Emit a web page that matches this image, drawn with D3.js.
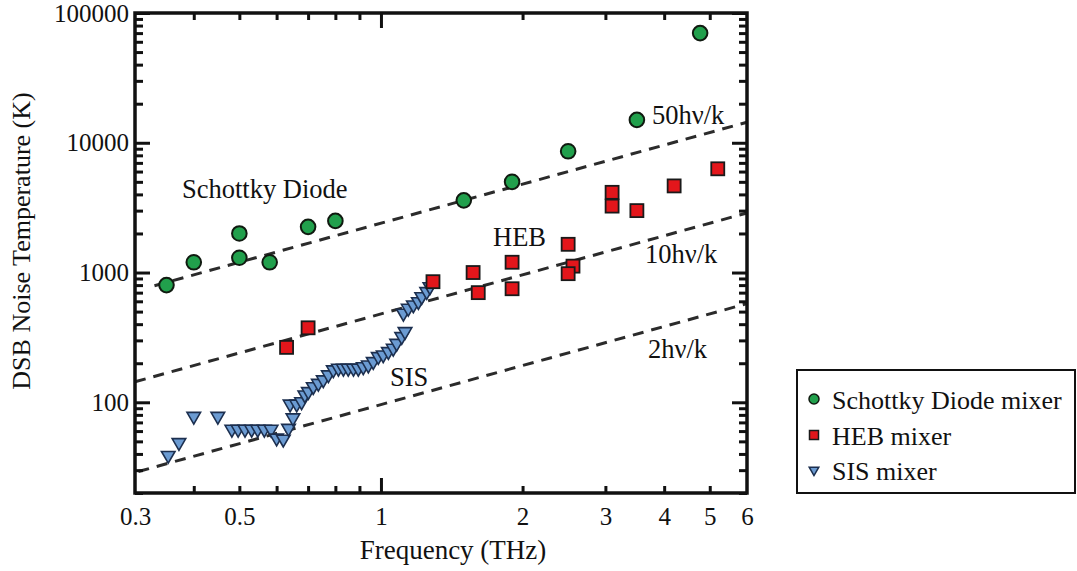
<!DOCTYPE html>
<html>
<head>
<meta charset="utf-8">
<script src="https://cdn.jsdelivr.net/npm/d3@7"></script>
<style>
  body { margin: 0; background: #fff; }
  svg { display: block; }
  text { font-family: "Liberation Serif", "Times New Roman", serif; fill: #111; }
</style>
</head>
<body>
<svg id="chart" width="1077" height="571"></svg>
<script>
// Receiver noise temperature (DSB) vs. frequency for three mixer technologies
const schottkyFreq = [0.35, 0.40, 0.50, 0.50, 0.58, 0.70, 0.80, 1.50, 1.90, 2.50, 3.50, 4.77];
const schottkyTemp = [800, 1200, 2000, 1300, 1200, 2250, 2500, 3600, 5000, 8600, 15000, 70000];

const hebFreq = [0.63, 0.70, 1.29, 1.57, 1.61, 1.90, 1.90, 2.50, 2.56, 2.50, 3.10, 3.10, 3.50, 4.20, 5.20];
const hebTemp = [265, 375, 850, 1000, 700, 1200, 750, 1650, 1120, 980, 4150, 3250, 3000, 4650, 6300];

const sisFreq = [0.353, 0.372, 0.40, 0.45,
  0.482, 0.497, 0.514, 0.531, 0.547, 0.565, 0.584,
  0.600, 0.620, 0.636, 0.650,
  0.641, 0.662, 0.678, 0.689, 0.701, 0.718, 0.736, 0.754, 0.773, 0.792,
  0.812, 0.832, 0.852, 0.874, 0.895, 0.917, 0.940, 0.963, 0.987, 1.011,
  1.037, 1.062, 1.080, 1.107, 1.125,
  1.116, 1.143, 1.172, 1.201, 1.221, 1.251, 1.271];
const sisTemp = [39, 49, 78, 78,
  62, 62, 62, 62, 62, 62, 62,
  53, 52, 63, 76,
  97, 97, 101, 114, 121, 132, 140, 149, 163, 178,
  183, 183, 183, 183, 183, 188, 194, 206, 225, 232,
  246, 261, 285, 321, 351,
  486, 531, 563, 597, 652, 713, 778];

// Quantum-limit reference lines T = N·hν/k (h/k ≈ 47.99 K per THz)
const hOverK = 47.99;
const refFactors = [50, 10, 2];
const refLabels = ["50hν/k", "10hν/k", "2hν/k"];
const refFreqStart = [0.33, 0.30, 0.305];
const refFreqEnd = [6, 6, 6];

const xTickValues = [0.3, 0.5, 1, 2, 3, 4, 5, 6];
const xMajorValues = [1];
const xMinorValues = [0.4, 0.5, 0.6, 0.7, 0.8, 0.9, 2, 3, 4, 5];
const yTickValues = [100, 1000, 10000, 100000];

const svg = d3.select("#chart");
const plotLeft = 135, plotRight = 747, plotTop = 13, plotBottom = 493;

const x = d3.scaleLog().domain([0.3, 6]).range([plotLeft, plotRight]);
const y = d3.scaleLog().domain([20, 100000]).range([plotBottom, plotTop]);

const yMinorValues = [];
[10, 100, 1000, 10000].forEach(d => {
  for (let k = 2; k <= 9; k++) {
    const v = d * k;
    if (v >= 20 && v < 100000) yMinorValues.push(v);
  }
});

const fontSize = 25;

// ---- reference lines ----
const refG = svg.append("g");
refFactors.forEach((n, i) => {
  const f0 = refFreqStart[i], f1 = refFreqEnd[i];
  refG.append("line")
    .attr("x1", x(f0)).attr("y1", y(n * hOverK * f0))
    .attr("x2", x(f1)).attr("y2", y(n * hOverK * f1))
    .attr("stroke", "#2b2b2b")
    .attr("stroke-width", 3)
    .attr("stroke-dasharray", "11,8");
});

// ---- data markers ----
const marks = svg.append("g");

marks.selectAll("path.sis")
  .data(sisFreq.map((f, i) => [f, sisTemp[i]]))
  .join("path")
  .attr("class", "sis")
  .attr("d", d3.symbol(d3.symbolTriangle, 80)())
  .attr("transform", d => `translate(${x(d[0])},${y(d[1])}) rotate(180)`)
  .attr("fill", "#6b9bd2")
  .attr("stroke", "#1c2f4f")
  .attr("stroke-width", 1.6);

marks.selectAll("rect.heb")
  .data(hebFreq.map((f, i) => [f, hebTemp[i]]))
  .join("rect")
  .attr("class", "heb")
  .attr("x", d => x(d[0]) - 6.5)
  .attr("y", d => y(d[1]) - 6.5)
  .attr("width", 13).attr("height", 13)
  .attr("fill", "#e3161b")
  .attr("stroke", "#1a1a1a")
  .attr("stroke-width", 1.8);

marks.selectAll("circle.sch")
  .data(schottkyFreq.map((f, i) => [f, schottkyTemp[i]]))
  .join("circle")
  .attr("class", "sch")
  .attr("cx", d => x(d[0]))
  .attr("cy", d => y(d[1]))
  .attr("r", 7.3)
  .attr("fill", "#21a04c")
  .attr("stroke", "#101a10")
  .attr("stroke-width", 2);

// ---- frame and ticks (all ticks point inward) ----
const axisStyle = g => {
  g.select(".domain").remove();
  g.selectAll(".tick line").attr("stroke", "#111").attr("stroke-width", 3);
};

svg.append("g").attr("transform", `translate(0,${plotBottom})`)
  .call(d3.axisBottom(x).tickValues(xMinorValues).tickSize(-7).tickFormat(""))
  .call(axisStyle);
svg.append("g").attr("transform", `translate(0,${plotBottom})`)
  .call(d3.axisBottom(x).tickValues(xMajorValues).tickSize(-15).tickFormat(""))
  .call(axisStyle);
svg.append("g").attr("transform", `translate(0,${plotTop})`)
  .call(d3.axisTop(x).tickValues(xMinorValues).tickSize(-7).tickFormat(""))
  .call(axisStyle);
svg.append("g").attr("transform", `translate(0,${plotTop})`)
  .call(d3.axisTop(x).tickValues(xMajorValues).tickSize(-15).tickFormat(""))
  .call(axisStyle);

svg.append("g").attr("transform", `translate(${plotLeft},0)`)
  .call(d3.axisLeft(y).tickValues(yMinorValues).tickSize(-8).tickFormat(""))
  .call(axisStyle);
svg.append("g").attr("transform", `translate(${plotLeft},0)`)
  .call(d3.axisLeft(y).tickValues(yTickValues).tickSize(-15).tickFormat(""))
  .call(axisStyle);
svg.append("g").attr("transform", `translate(${plotRight},0)`)
  .call(d3.axisRight(y).tickValues(yMinorValues).tickSize(-8).tickFormat(""))
  .call(axisStyle);
svg.append("g").attr("transform", `translate(${plotRight},0)`)
  .call(d3.axisRight(y).tickValues(yTickValues).tickSize(-15).tickFormat(""))
  .call(axisStyle);

svg.append("rect")
  .attr("x", plotLeft).attr("y", plotTop)
  .attr("width", plotRight - plotLeft).attr("height", plotBottom - plotTop)
  .attr("fill", "none").attr("stroke", "#111").attr("stroke-width", 3.5);

// ---- tick labels ----
svg.append("g").attr("transform", `translate(0,${plotBottom})`)
  .call(d3.axisBottom(x).tickValues(xTickValues).tickSize(0).tickPadding(14).tickFormat(d3.format("")))
  .call(g => g.select(".domain").remove())
  .call(g => g.selectAll("text")
    .attr("font-size", fontSize)
    .attr("font-family", "Liberation Serif, serif")
    .attr("fill", "#111"));

svg.append("g").attr("transform", `translate(${plotLeft},0)`)
  .call(d3.axisLeft(y).tickValues(yTickValues).tickSize(0).tickPadding(6).tickFormat(d3.format("d")))
  .call(g => g.select(".domain").remove())
  .call(g => g.selectAll("text")
    .attr("font-size", fontSize)
    .attr("font-family", "Liberation Serif, serif")
    .attr("fill", "#111"));

// ---- axis titles ----
svg.append("text")
  .attr("x", (plotLeft + plotRight) / 2 + 12).attr("y", 559)
  .attr("text-anchor", "middle")
  .attr("font-size", 27)
  .text("Frequency (THz)");

svg.append("text")
  .attr("transform", `translate(30,${(plotTop + plotBottom) / 2 - 12}) rotate(-90)`)
  .attr("text-anchor", "middle")
  .attr("font-size", 26)
  .text("DSB Noise Temperature (K)");

// ---- in-plot annotations ----
const annot = svg.append("g").attr("font-size", 26.5);
annot.append("text").attr("x", 182).attr("y", 198).text("Schottky Diode");
annot.append("text").attr("x", 493).attr("y", 246).text("HEB");
annot.append("text").attr("x", 390).attr("y", 386).text("SIS");
const refLabelX = [652, 645, 648];
const refLabelY = [124, 263, 358];
refLabels.forEach((t, i) => {
  annot.append("text").attr("x", refLabelX[i]).attr("y", refLabelY[i]).text(t);
});

// ---- legend ----
const legendNames = ["Schottky Diode mixer", "HEB mixer", "SIS mixer"];
const lg = svg.append("g");
lg.append("rect")
  .attr("x", 797).attr("y", 370).attr("width", 278).attr("height", 123)
  .attr("fill", "#fff").attr("stroke", "#111").attr("stroke-width", 2);
const rowY = [401, 437, 472];
lg.append("circle").attr("cx", 814).attr("cy", rowY[0] - 2).attr("r", 5)
  .attr("fill", "#21a04c").attr("stroke", "#101a10").attr("stroke-width", 1.5);
lg.append("rect").attr("x", 809.5).attr("y", rowY[1] - 6.5).attr("width", 9).attr("height", 9)
  .attr("fill", "#e3161b").attr("stroke", "#1a1a1a").attr("stroke-width", 1.5);
lg.append("path").attr("d", d3.symbol(d3.symbolTriangle, 40)())
  .attr("transform", `translate(814,${rowY[2] - 2}) rotate(180)`)
  .attr("fill", "#6b9bd2").attr("stroke", "#1c2f4f").attr("stroke-width", 1.5);
legendNames.forEach((t, i) => {
  lg.append("text").attr("x", 832).attr("y", rowY[i] + 8)
    .attr("font-size", 26).text(t);
});
</script>
</body>
</html>
